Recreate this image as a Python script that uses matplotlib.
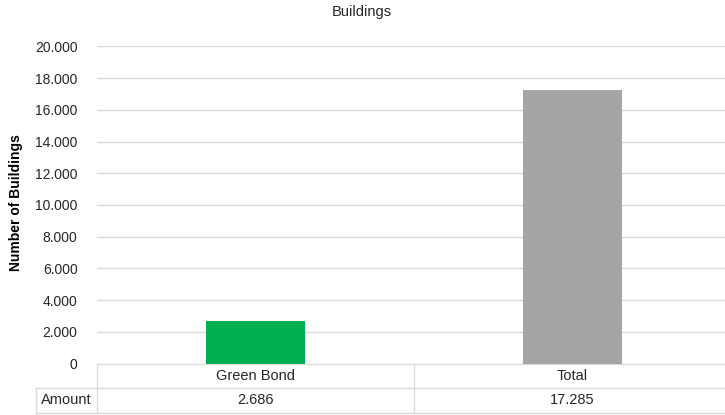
import matplotlib.pyplot as plt
from matplotlib.ticker import FuncFormatter
from matplotlib.lines import Line2D

plt.rcParams['font.family'] = ['Liberation Sans', 'DejaVu Sans']

categories = ['Green Bond', 'Total']
values = [2686, 17285]
colors = ['#00B050', '#A5A5A5']
row_label = 'Amount'
value_labels = ['2.686', '17.285']

W, H = 725, 415
txt = '#262626'
fig = plt.figure(figsize=(W / 100, H / 100), dpi=100)
# chart area is cut off on the right in the reference, so the axes run past the edge
ax = fig.add_axes([97 / W, 1 - 363.5 / H, (731 - 97) / W, (363.5 - 46.5) / H])

x = list(range(len(categories)))
ax.bar(x, values, width=0.315, color=colors, zorder=3)
ax.set_xlim(-0.5, len(categories) - 0.5)
ax.set_ylim(0, 20000)
ax.set_yticks(range(0, 20001, 2000))
ax.yaxis.set_major_formatter(FuncFormatter(lambda v, p: f'{int(v):,}'.replace(',', '.')))
ax.grid(axis='y', color='#D9D9D9', linewidth=1, zorder=0)
ax.set_xticks([])
for s in ['top', 'right', 'left']:
    ax.spines[s].set_visible(False)
ax.spines['bottom'].set_color('#D9D9D9')
ax.tick_params(axis='y', length=0, pad=14, labelsize=10, labelcolor=txt)
fig.text(16 / W, 1 - 203 / H, 'Number of Buildings', rotation=90, ha='center', va='center',
         fontsize=10, fontweight='bold', color='#000000')
fig.text(362 / W, 1 - 12 / H, 'Buildings', ha='center', va='center', fontsize=10.5, color=txt)

# data table under the axis
tr = ax.get_xaxis_transform()
unit_h = 317.0
y_row1 = -24 / unit_h
y_row2 = -49.5 / unit_h
cat_w = 317.0
line_kw = dict(color='#D9D9D9', linewidth=1, transform=tr, clip_on=False)
x_left_tbl = -0.5 - (97 - 36) / cat_w
for xv in [-0.5, 0.5, 1.5]:
    ax.add_line(Line2D([xv, xv], [0, y_row2], **line_kw))
ax.add_line(Line2D([x_left_tbl, x_left_tbl], [y_row1, y_row2], **line_kw))
ax.add_line(Line2D([x_left_tbl, 1.5], [y_row1, y_row1], **line_kw))
ax.add_line(Line2D([x_left_tbl, 1.5], [y_row2, y_row2], **line_kw))
for xi, cat, lab in zip(x, categories, value_labels):
    ax.text(xi, y_row1 / 2, cat, transform=tr, ha='center', va='center', fontsize=10.5, color=txt)
    ax.text(xi, (y_row1 + y_row2) / 2, lab, transform=tr, ha='center', va='center', fontsize=10.5, color=txt)
ax.text((x_left_tbl - 0.5) / 2, (y_row1 + y_row2) / 2, row_label, transform=tr, ha='center', va='center',
        fontsize=10.5, color=txt)

fig.savefig('out.png', dpi=100)
